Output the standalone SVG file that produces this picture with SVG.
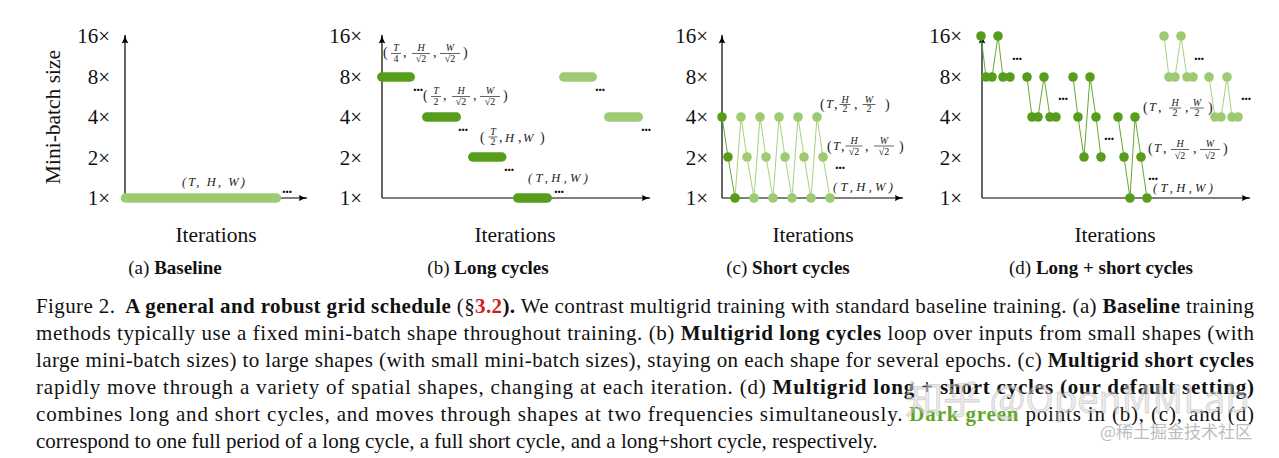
<svg xmlns="http://www.w3.org/2000/svg" width="1279" height="458" viewBox="0 0 1279 458" font-family="'Liberation Serif','Times New Roman',Times,serif">
<defs>
<marker id="ah" markerWidth="10" markerHeight="8" refX="8.5" refY="4" orient="auto" markerUnits="userSpaceOnUse">
<path d="M0,0.6 Q4.5,3.4 9,4 Q4.5,4.6 0,7.4 Q2.2,4 0,0.6 Z" fill="#000"/>
</marker>
<style>
.ax{stroke:#000;stroke-width:1.2;fill:none;marker-end:url(#ah)}
.tk{font-size:21px;fill:#111;text-anchor:end}
.big{font-size:21.5px;fill:#111}
.sub{font-size:19px;fill:#111;text-anchor:middle}
.m{font-size:12.5px;font-style:italic;fill:#222}
.p{font-size:14px;fill:#222}
.f{font-size:10px;fill:#222;text-anchor:middle}
.fi{font-size:10px;font-style:italic;fill:#222;text-anchor:middle}
.fb{stroke:#222;stroke-width:0.7}
.dots{font-size:15px;font-weight:bold;fill:#111;letter-spacing:-0.5px}
.dk{fill:#569d1c}
.lt{fill:#9ecb72}
.dkl{stroke:#569d1c;stroke-width:0.9;fill:none}
.ltl{stroke:#9ecb72;stroke-width:0.9;fill:none}
.dkb{stroke:#569d1c;stroke-width:9.5;stroke-linecap:round}
.ltb{stroke:#9ecb72;stroke-width:9.5;stroke-linecap:round}
.cap{font-size:21px;fill:#111}
.b{font-weight:bold}
</style>
</defs>
<rect width="1279" height="458" fill="#fff"/>

<!-- Panel (a) -->
<g id="panel-a">
<line class="ax" x1="125" y1="198" x2="125" y2="35"/>
<line class="ax" x1="125" y1="198" x2="307" y2="198"/>
<text class="tk" x="110" y="43">16×</text>
<text class="tk" x="110" y="84">8×</text>
<text class="tk" x="110" y="124">4×</text>
<text class="tk" x="110" y="165">2×</text>
<text class="tk" x="110" y="205">1×</text>
<text class="big" transform="translate(60,117) rotate(-90)" text-anchor="middle">Mini-batch size</text>
<line class="ltb" x1="125.5" y1="198" x2="276.5" y2="198"/>
<text class="m" x="182" y="186" textLength="63" lengthAdjust="spacing">(T, H, W)</text>
<text class="dots" x="282" y="193">...</text>
<text class="big" x="216" y="242" text-anchor="middle">Iterations</text>
<text class="sub" x="175" y="274">(a) <tspan class="b">Baseline</tspan></text>
</g>

<!-- Panel (b) -->
<g id="panel-b">
<line class="ax" x1="382" y1="198" x2="382" y2="35"/>
<line class="ax" x1="382" y1="198" x2="650" y2="198"/>
<text class="tk" x="362" y="43">16×</text>
<text class="tk" x="362" y="84">8×</text>
<text class="tk" x="362" y="124">4×</text>
<text class="tk" x="362" y="165">2×</text>
<text class="tk" x="362" y="205">1×</text>
<line class="dkb" x1="381.75" y1="77" x2="410.25" y2="77"/>
<line class="dkb" x1="426.75" y1="117" x2="456.25" y2="117"/>
<line class="dkb" x1="472.75" y1="157" x2="501.75" y2="157"/>
<line class="dkb" x1="517.75" y1="198" x2="547.25" y2="198"/>
<line class="ltb" x1="563.75" y1="77" x2="592.25" y2="77"/>
<line class="ltb" x1="608.75" y1="117" x2="638.25" y2="117"/>
<text class="dots" x="413" y="91">...</text>
<text class="dots" x="458" y="131">...</text>
<text class="dots" x="504" y="171">...</text>
<text class="dots" x="554" y="193">...</text>
<text class="dots" x="595" y="91">...</text>
<text class="dots" x="641" y="131">...</text>
<g id="lbl-b1">
<text class="p" x="383" y="57">(</text>
<text class="fi" x="396" y="51">T</text><line class="fb" x1="391" y1="53.5" x2="401" y2="53.5"/><text class="f" x="396" y="61.5">4</text>
<text class="p" x="403" y="57">,</text>
<text class="fi" x="421" y="51">H</text><line class="fb" x1="412" y1="53.5" x2="430" y2="53.5"/><text class="f" x="421" y="61.5">√2</text>
<text class="p" x="433" y="57">,</text>
<text class="fi" x="450" y="51">W</text><line class="fb" x1="440" y1="53.5" x2="460" y2="53.5"/><text class="f" x="450" y="61.5">√2</text>
<text class="p" x="463" y="57">)</text>
</g>
<g id="lbl-b2">
<text class="p" x="423" y="100">(</text>
<text class="fi" x="436" y="94">T</text><line class="fb" x1="431" y1="96.5" x2="441" y2="96.5"/><text class="f" x="436" y="104.5">2</text>
<text class="p" x="443" y="100">,</text>
<text class="fi" x="461" y="94">H</text><line class="fb" x1="452" y1="96.5" x2="470" y2="96.5"/><text class="f" x="461" y="104.5">√2</text>
<text class="p" x="473" y="100">,</text>
<text class="fi" x="490" y="94">W</text><line class="fb" x1="480" y1="96.5" x2="500" y2="96.5"/><text class="f" x="490" y="104.5">√2</text>
<text class="p" x="503" y="100">)</text>
</g>
<g id="lbl-b3">
<text class="p" x="480" y="142">(</text>
<text class="fi" x="493" y="134.5">T</text><line class="fb" x1="488.5" y1="137" x2="497.5" y2="137"/><text class="f" x="493" y="145">2</text>
<text class="p" x="499" y="142">,</text>
<text class="m" x="505" y="142">H</text>
<text class="p" x="518" y="142">,</text>
<text class="m" x="523" y="142">W</text>
<text class="p" x="540" y="142">)</text>
</g>
<text class="m" x="528" y="182" textLength="60" lengthAdjust="spacing">(T,H,W)</text>
<text class="big" x="515" y="242" text-anchor="middle">Iterations</text>
<text class="sub" x="488" y="274">(b) <tspan class="b">Long cycles</tspan></text>
</g>

<!-- Panel (c) -->
<g id="panel-c">
<line class="ax" x1="722" y1="198" x2="722" y2="35"/>
<line class="ax" x1="722" y1="198" x2="903" y2="198"/>
<text class="tk" x="708" y="43">16×</text>
<text class="tk" x="708" y="84">8×</text>
<text class="tk" x="708" y="124">4×</text>
<text class="tk" x="708" y="165">2×</text>
<text class="tk" x="708" y="205">1×</text>
<polyline class="ltl" points="735,198 741,117 747,157 754,198 760,117 766,157 773,198 779,117 785,157 792,198 798,117 804,157 811,198 817,117 823,157 830,198"/>
<polyline class="dkl" points="722,117 728,157 735,198"/>
<g class="lt">
<circle cx="741" cy="117" r="4.8"/><circle cx="760" cy="117" r="4.8"/><circle cx="779" cy="117" r="4.8"/><circle cx="798" cy="117" r="4.8"/><circle cx="817" cy="117" r="4.8"/>
<circle cx="747" cy="157" r="4.8"/><circle cx="766" cy="157" r="4.8"/><circle cx="785" cy="157" r="4.8"/><circle cx="804" cy="157" r="4.8"/><circle cx="823" cy="157" r="4.8"/>
<circle cx="754" cy="198" r="4.8"/><circle cx="773" cy="198" r="4.8"/><circle cx="792" cy="198" r="4.8"/><circle cx="811" cy="198" r="4.8"/><circle cx="830" cy="198" r="4.8"/>
</g>
<g class="dk">
<circle cx="722" cy="117" r="4.8"/><circle cx="728" cy="157" r="4.8"/><circle cx="735" cy="198" r="4.8"/>
</g>
<g id="lbl-c1">
<text class="p" x="820" y="109">(</text>
<text class="m" x="826" y="108">T</text>
<text class="p" x="834" y="109">,</text>
<text class="fi" x="845" y="102.5">H</text><line class="fb" x1="839.5" y1="104.5" x2="850.5" y2="104.5"/><text class="f" x="845" y="112">2</text>
<text class="p" x="854" y="109">,</text>
<text class="fi" x="869" y="102.5">W</text><line class="fb" x1="862.5" y1="104.5" x2="875.5" y2="104.5"/><text class="f" x="869" y="112">2</text>
<text class="p" x="885" y="109">)</text>
</g>
<g id="lbl-c2">
<text class="p" x="827" y="151">(</text>
<text class="m" x="833" y="150">T</text>
<text class="p" x="841" y="151">,</text>
<text class="fi" x="854" y="143.5">H</text><line class="fb" x1="845.5" y1="146" x2="862.5" y2="146"/><text class="f" x="854" y="155">√2</text>
<text class="p" x="865" y="151">,</text>
<text class="fi" x="884" y="143.5">W</text><line class="fb" x1="874" y1="146" x2="894" y2="146"/><text class="f" x="884" y="155">√2</text>
<text class="p" x="899" y="151">)</text>
</g>
<text class="dots" x="835" y="169">...</text>
<text class="m" x="833" y="191" textLength="60" lengthAdjust="spacing">(T,H,W)</text>
<text class="big" x="813" y="242" text-anchor="middle">Iterations</text>
<text class="sub" x="788" y="274">(c) <tspan class="b">Short cycles</tspan></text>
</g>

<!-- Panel (d) -->
<g id="panel-d">
<line class="ax" x1="982" y1="198" x2="982" y2="35"/>
<line class="ax" x1="982" y1="198" x2="1250" y2="198"/>
<text class="tk" x="962" y="43">16×</text>
<text class="tk" x="962" y="84">8×</text>
<text class="tk" x="962" y="124">4×</text>
<text class="tk" x="962" y="165">2×</text>
<text class="tk" x="962" y="205">1×</text>
<polyline class="dkl" points="981,36 986,77 992,77 998,36 1003,77 1010,77"/>
<polyline class="dkl" points="1027,77 1032,117 1038,117 1044,77 1050,117 1056,117"/>
<polyline class="dkl" points="1073,77 1078,117 1084,157 1090,77 1096,117 1101,157"/>
<polyline class="dkl" points="1118,117 1124,157 1130,198 1135,117 1141,157 1147,198"/>
<g class="dk">
<circle cx="981" cy="36" r="4.8"/><circle cx="986" cy="77" r="4.8"/><circle cx="992" cy="77" r="4.8"/><circle cx="998" cy="36" r="4.8"/><circle cx="1003" cy="77" r="4.8"/><circle cx="1010" cy="77" r="4.8"/>
<circle cx="1027" cy="77" r="4.8"/><circle cx="1032" cy="117" r="4.8"/><circle cx="1038" cy="117" r="4.8"/><circle cx="1044" cy="77" r="4.8"/><circle cx="1050" cy="117" r="4.8"/><circle cx="1056" cy="117" r="4.8"/>
<circle cx="1073" cy="77" r="4.8"/><circle cx="1078" cy="117" r="4.8"/><circle cx="1084" cy="157" r="4.8"/><circle cx="1090" cy="77" r="4.8"/><circle cx="1096" cy="117" r="4.8"/><circle cx="1101" cy="157" r="4.8"/>
<circle cx="1118" cy="117" r="4.8"/><circle cx="1124" cy="157" r="4.8"/><circle cx="1130" cy="198" r="4.8"/><circle cx="1135" cy="117" r="4.8"/><circle cx="1141" cy="157" r="4.8"/><circle cx="1147" cy="198" r="4.8"/>
</g>
<text class="dots" x="1012" y="60">...</text>
<text class="dots" x="1058" y="100">...</text>
<text class="dots" x="1104" y="140">...</text>
<text class="dots" x="1148" y="180">...</text>
<text class="dots" x="1194" y="60">...</text>
<text class="dots" x="1241" y="100">...</text>
<g id="lbl-d1">
<text class="p" x="1143" y="112">(</text>
<text class="m" x="1149" y="111">T</text>
<text class="p" x="1158" y="112">,</text>
<text class="fi" x="1175" y="105.5">H</text><line class="fb" x1="1169" y1="108" x2="1181" y2="108"/><text class="f" x="1175" y="115.5">2</text>
<text class="p" x="1185" y="112">,</text>
<text class="fi" x="1197" y="105.5">W</text><line class="fb" x1="1190" y1="108" x2="1204" y2="108"/><text class="f" x="1197" y="115.5">2</text>
<text class="p" x="1208" y="112">)</text>
</g>
<g id="lbl-d2">
<text class="p" x="1148" y="153">(</text>
<text class="m" x="1154" y="152">T</text>
<text class="p" x="1163" y="153">,</text>
<text class="fi" x="1180" y="146.5">H</text><line class="fb" x1="1171" y1="149.5" x2="1189" y2="149.5"/><text class="f" x="1180" y="158.5">√2</text>
<text class="p" x="1193" y="153">,</text>
<text class="fi" x="1210" y="146.5">W</text><line class="fb" x1="1200" y1="149.5" x2="1220" y2="149.5"/><text class="f" x="1210" y="158.5">√2</text>
<text class="p" x="1223" y="153">)</text>
</g>
<text class="m" x="1153" y="192" textLength="60" lengthAdjust="spacing">(T,H,W)</text>
<polyline class="ltl" points="1164,36 1169,77 1175,77 1181,36 1187,77 1193,77"/>
<polyline class="ltl" points="1209,77 1215,117 1221,117 1227,77 1232,117 1238,117"/>
<g class="lt">
<circle cx="1164" cy="36" r="4.8"/><circle cx="1169" cy="77" r="4.8"/><circle cx="1175" cy="77" r="4.8"/><circle cx="1181" cy="36" r="4.8"/><circle cx="1187" cy="77" r="4.8"/><circle cx="1193" cy="77" r="4.8"/>
<circle cx="1209" cy="77" r="4.8"/><circle cx="1215" cy="117" r="4.8"/><circle cx="1221" cy="117" r="4.8"/><circle cx="1227" cy="77" r="4.8"/><circle cx="1232" cy="117" r="4.8"/><circle cx="1238" cy="117" r="4.8"/>
</g>
<text class="big" x="1115" y="242" text-anchor="middle">Iterations</text>
<text class="sub" x="1101" y="274">(d) <tspan class="b">Long + short cycles</tspan></text>
</g>

<!-- Caption -->
<g id="caption">
<text class="cap" x="36" y="313" textLength="1218" lengthAdjust="spacing">Figure 2.<tspan dx="10" class="b">A general and robust grid schedule</tspan> (§<tspan class="b" fill="#cc1f1f">3.2</tspan><tspan class="b">).</tspan> We contrast multigrid training with standard baseline training. (a) <tspan class="b">Baseline</tspan> training</text>
<text class="cap" x="36" y="340" textLength="1218" lengthAdjust="spacing">methods typically use a fixed mini-batch shape throughout training. (b) <tspan class="b">Multigrid long cycles</tspan> loop over inputs from small shapes (with</text>
<text class="cap" x="36" y="367" textLength="1218" lengthAdjust="spacing">large mini-batch sizes) to large shapes (with small mini-batch sizes), staying on each shape for several epochs. (c) <tspan class="b">Multigrid short cycles</tspan></text>
<text class="cap" x="36" y="394" textLength="1218" lengthAdjust="spacing">rapidly move through a variety of spatial shapes, changing at each iteration. (d) <tspan class="b">Multigrid long + short cycles (our default setting)</tspan></text>
<text class="cap" x="36" y="421" textLength="1218" lengthAdjust="spacing">combines long and short cycles, and moves through shapes at two frequencies simultaneously. <tspan class="b" fill="#63a626">Dark green</tspan> points in (b), (c), and (d)</text>
<text class="cap" x="36" y="448">correspond to one full period of a long cycle, a full short cycle, and a long+short cycle, respectively.</text>
</g>

<!-- Watermarks -->
<g id="watermark" font-family="'Noto Sans CJK SC','Noto Sans',sans-serif">
<text x="905" y="413" font-size="38" fill="#d8d8d8" fill-opacity="0.5" stroke="#9a9a9a" stroke-opacity="0.4" stroke-width="0.8">知乎 @OpenMMLab</text>
<text x="1100" y="438" font-size="17" fill="#bdbdbd">@稀土掘金技术社区</text>
</g>
</svg>
